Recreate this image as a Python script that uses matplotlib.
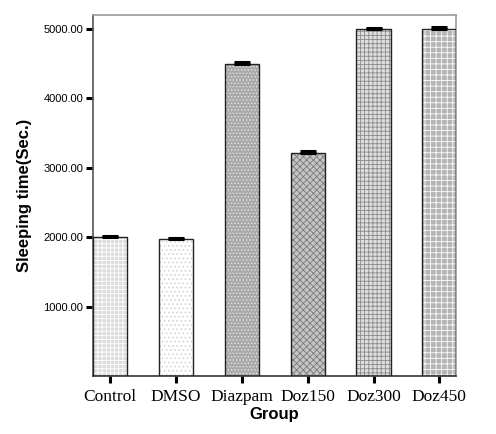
import matplotlib
matplotlib.use('AGG')
import numpy as np
import matplotlib.pyplot as plt

groups = ['Control', 'DMSO', 'Diazpam', 'Doz150', 'Doz300', 'Doz450']
sleep_time = [2000, 1980, 4500, 3205, 5000, 5000]
sleep_err = [10, 10, 15, 35, 15, 30]

# texture per bar: (fill, hatch colour, hatch)
faces = ['#dcdcdc', '#ffffff', '#a9a9a9', '#c4c4c4', '#dedede', '#b4b4b4']
hatch_cols = ['#ffffff', '#cfcfcf', '#e6e6e6', '#7a7a7a', '#8a8a8a', '#ffffff']
hatches = ['++++', '....', '.....', 'xxxxx', '++++', '+++']

plt.rcParams['hatch.linewidth'] = 0.6
fig = plt.figure(figsize=(4.96, 4.34), dpi=100)
ax = fig.add_axes([0.1875, 0.1336, 0.7315, 0.832])

x = np.arange(len(groups))
w = 0.52
for i in range(len(groups)):
    ax.bar(x[i], sleep_time[i], width=w, color=faces[i], edgecolor=hatch_cols[i],
           hatch=hatches[i], linewidth=0, zorder=2)
ax.bar(x, sleep_time, width=w, fill=False, edgecolor='#222222', linewidth=1.0, zorder=3)
ax.errorbar(x, sleep_time, yerr=[np.zeros(len(x)), sleep_err], fmt='none',
            ecolor='black', elinewidth=1.0, capsize=6, capthick=2.2, zorder=4)

ax.set_xlim(-0.26, 5.25)
ax.set_ylim(0, 5200)
ax.set_yticks([1000, 2000, 3000, 4000, 5000])
ax.set_yticklabels([f'{v:.2f}' for v in [1000, 2000, 3000, 4000, 5000]],
                   family='Liberation Sans', fontsize=8)
ax.set_xticks(x)
ax.set_xticklabels(groups, family='Liberation Serif', fontsize=12.5)
ax.tick_params(axis='both', direction='out', length=5, width=2.2, color='black')
ax.tick_params(axis='y', pad=2)
ax.tick_params(axis='x', pad=4)

ax.spines['left'].set_color('#555555')
ax.spines['bottom'].set_color('#333333')
ax.spines['top'].set_color('#999999')
ax.spines['right'].set_color('#999999')
for s in ax.spines.values():
    s.set_linewidth(1.2)

ax.set_xlabel('Group', family='Liberation Sans', fontweight='bold', fontsize=12, labelpad=2)
ax.set_ylabel('Sleeping time(Sec.)', family='Liberation Sans', fontweight='bold', fontsize=12, labelpad=8)

fig.savefig('out.png', dpi=100)
